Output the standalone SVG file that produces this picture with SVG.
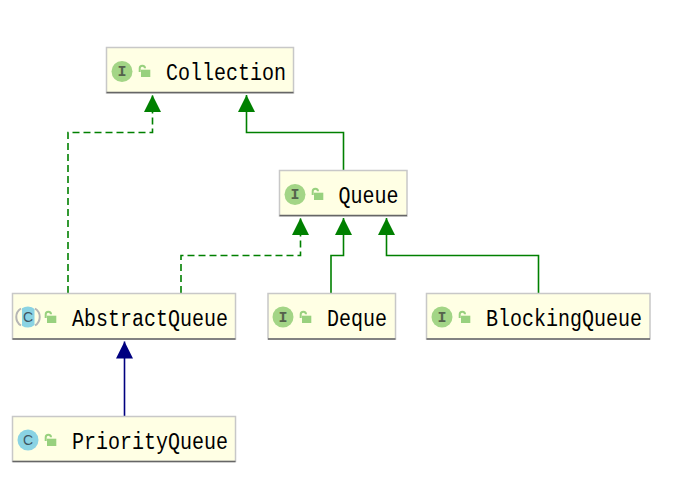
<svg xmlns="http://www.w3.org/2000/svg" width="684" height="497" viewBox="0 0 684 497">
<style>
.box{fill:#ffffe4;stroke:#c8c8c8;stroke-width:1.5}
.base{stroke:#666;stroke-width:1.5;fill:none}
.label{font-family:"Liberation Mono",monospace;font-size:23px;fill:#000}
.ibadge{fill:#a3d586}
.cbadge{fill:#8ad3e3}
.glyph{font-family:"Liberation Mono",monospace;font-size:15px;font-weight:bold;fill:#55624c;text-anchor:middle}
.cglyph{font-family:"Liberation Sans",sans-serif;font-size:14px;fill:#3f5560;text-anchor:middle}
.lock{fill:#98d17e}
.shackle{fill:none;stroke:#98d17e;stroke-width:2}
.g{fill:none;stroke:#008000;stroke-width:1.6}
.d{stroke-dasharray:7 4}
.b{fill:none;stroke:#000080;stroke-width:1.6}
</style>
<defs>
<marker id="ag" markerUnits="userSpaceOnUse" markerWidth="18" markerHeight="18" refX="17" refY="9" orient="auto"><path d="M0 0.500L17 9L0 17.500Z" fill="#008000"/></marker>
<marker id="ab" markerUnits="userSpaceOnUse" markerWidth="18" markerHeight="18" refX="17" refY="9" orient="auto"><path d="M0 0.500L17 9L0 17.500Z" fill="#000080"/></marker>
<clipPath id="stripe"><rect x="22" y="305" width="12.500" height="24"/></clipPath>
<g id="lockicon"><path class="shackle" d="M-4.300 1V-2.700A2.650 2.650 0 0 1 1 -2.700"/><rect class="lock" x="-3" y="-1.300" width="9.300" height="7.300"/></g>
</defs>
<g id="connectors">
<path class="g d" d="M68 293V132.500H152.500V95" marker-end="url(#ag)"/>
<path class="g" d="M343.500 170V132.500H246.500V95" marker-end="url(#ag)"/>
<path class="g d" d="M181 293V255.500H300.500V218" marker-end="url(#ag)"/>
<path class="g" d="M331 293V255.500H343.500V218" marker-end="url(#ag)"/>
<path class="g" d="M538.500 293V255.500H386.500V218" marker-end="url(#ag)"/>
<path class="b" d="M124.500 416V341.500" marker-end="url(#ab)"/>
</g>
<g id="collection">
<rect class="box" x="106.500" y="47.500" width="187" height="45.500"/><path class="base" d="M106.500 92.500H293.500"/>
<circle class="ibadge" cx="122" cy="71.500" r="10.500"/><text class="glyph" x="122" y="76">I</text>
<use href="#lockicon" x="144" y="71"/>
<text class="label" x="166" y="79.500" textLength="120" lengthAdjust="spacingAndGlyphs">Collection</text>
</g>
<g id="queue">
<rect class="box" x="279.500" y="170.500" width="127.500" height="45.500"/><path class="base" d="M279.500 215.500H407"/>
<circle class="ibadge" cx="295" cy="194.500" r="10.500"/><text class="glyph" x="295" y="199">I</text>
<use href="#lockicon" x="317" y="194"/>
<text class="label" x="338.500" y="202.500" textLength="60" lengthAdjust="spacingAndGlyphs">Queue</text>
</g>
<g id="abstractqueue">
<rect class="box" x="12.500" y="293.500" width="223" height="45.500"/><path class="base" d="M12.500 339H235.500"/>
<path d="M21 308.500A10 10 0 0 0 21 325.500M35 308.500A10 10 0 0 1 35 325.500" fill="none" stroke="#b5b5b5" stroke-width="2"/>
<circle class="cbadge" cx="28" cy="317" r="10.500" clip-path="url(#stripe)"/><text class="cglyph" x="28" y="322">C</text>
<use href="#lockicon" x="50" y="317"/>
<text class="label" x="72" y="325.500" textLength="156" lengthAdjust="spacingAndGlyphs">AbstractQueue</text>
</g>
<g id="deque">
<rect class="box" x="268" y="293.500" width="127.500" height="45.500"/><path class="base" d="M268 339H395.500"/>
<circle class="ibadge" cx="283" cy="317" r="10.500"/><text class="glyph" x="283" y="321.500">I</text>
<use href="#lockicon" x="305" y="317"/>
<text class="label" x="327" y="325.500" textLength="60" lengthAdjust="spacingAndGlyphs">Deque</text>
</g>
<g id="blockingqueue">
<rect class="box" x="426.500" y="293.500" width="223.500" height="45.500"/><path class="base" d="M426.500 339H650"/>
<circle class="ibadge" cx="442" cy="317" r="10.500"/><text class="glyph" x="442" y="321.500">I</text>
<use href="#lockicon" x="464" y="317"/>
<text class="label" x="486" y="325.500" textLength="156" lengthAdjust="spacingAndGlyphs">BlockingQueue</text>
</g>
<g id="priorityqueue">
<rect class="box" x="12.500" y="416.500" width="223" height="45"/><path class="base" d="M12.500 461.500H235.500"/>
<circle class="cbadge" cx="28" cy="440" r="10.500"/><text class="cglyph" x="28" y="445">C</text>
<use href="#lockicon" x="50" y="440"/>
<text class="label" x="72" y="448.500" textLength="156" lengthAdjust="spacingAndGlyphs">PriorityQueue</text>
</g>
</svg>
